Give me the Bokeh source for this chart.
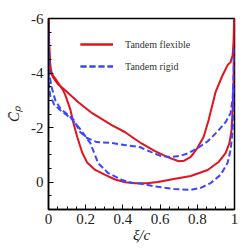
from bokeh.plotting import figure
from bokeh.models import Range1d, FixedTicker, Legend, LegendItem, CustomJSTickFormatter
from bokeh.embed import file_html
from bokeh.resources import INLINE

# Tandem flexible: suction (upper) and pressure (lower) branches
flex_suction_x = [0.0, 0.003, 0.008, 0.013, 0.024, 0.05, 0.09, 0.16, 0.235, 0.34, 0.41,
                  0.5, 0.57, 0.64, 0.7, 0.73, 0.765, 0.8, 0.834, 0.861, 0.898, 0.936,
                  0.963, 0.979, 0.99, 0.995, 0.998]
flex_suction_cp = [-6.0, -5.0, -4.4, -4.03, -3.85, -3.6, -3.37, -2.93, -2.53, -2.09, -1.84,
                   -1.42, -1.15, -0.92, -0.77, -0.79, -0.93, -1.25, -1.66, -2.28, -3.3, -3.92,
                   -4.29, -4.4, -4.65, -5.13, -6.0]
flex_pressure_x = [0.0, 0.005, 0.01, 0.02, 0.053, 0.08, 0.09, 0.118, 0.134, 0.155, 0.182,
                   0.209, 0.251, 0.305, 0.358, 0.412, 0.47, 0.53, 0.588, 0.674, 0.765,
                   0.856, 0.914, 0.952, 0.973, 0.984, 0.99, 0.995, 0.997, 0.998]
flex_pressure_cp = [-6.0, -4.8, -4.2, -3.95, -3.63, -3.35, -3.2, -2.65, -2.17, -1.65, -1.07,
                    -0.71, -0.45, -0.27, -0.1, 0.0, 0.04, 0.04, -0.01, -0.12, -0.23,
                    -0.45, -0.74, -1.07, -1.44, -1.91, -2.64, -3.74, -5.2, -6.0]

# Tandem rigid: suction (upper) and pressure (lower) branches
rigid_suction_x = [0.0, 0.003, 0.006, 0.016, 0.037, 0.064, 0.107, 0.134, 0.17, 0.207, 0.26,
                   0.34, 0.41, 0.49, 0.55, 0.604, 0.658, 0.711, 0.754, 0.802, 0.856, 0.909,
                   0.952, 0.979, 0.99, 0.995, 0.998]
rigid_suction_cp = [-5.8, -4.8, -3.9, -3.5, -3.0, -2.7, -2.45, -2.3, -1.84, -1.62, -1.47,
                    -1.44, -1.36, -1.29, -1.11, -0.96, -0.92, -0.97, -1.07, -1.25, -1.5, -1.86,
                    -2.2, -2.53, -3.08, -3.9, -4.9]
rigid_pressure_x = [0.0, 0.004, 0.01, 0.03, 0.07, 0.12, 0.17, 0.225, 0.267, 0.32, 0.396,
                    0.45, 0.49, 0.588, 0.674, 0.765, 0.818, 0.872, 0.925, 0.963, 0.979,
                    0.99, 0.995, 0.997]
rigid_pressure_cp = [-4.0, -3.4, -3.15, -2.85, -2.6, -2.35, -1.95, -1.43, -0.7, -0.34, -0.08,
                     0.03, 0.05, 0.17, 0.245, 0.28, 0.21, 0.03, -0.27, -0.71, -1.18,
                     -1.91, -2.64, -3.6]

xticks = [0.0, 0.2, 0.4, 0.6, 0.8, 1.0]
xtick_labels = ["0", "0.2", "0.4", "0.6", "0.8", "1"]
x_minor = [0.05, 0.1, 0.15, 0.25, 0.3, 0.35, 0.45, 0.5, 0.55, 0.65, 0.7, 0.75, 0.85, 0.9, 0.95]
yticks = [-6, -4, -2, 0]
ytick_labels = ["-6", "-4", "-2", "0"]
y_minor = [-5.5, -5, -4.5, -3.5, -3, -2.5, -1.5, -1, -0.5, 0.5]

RED = "#e0141e"
BLUE = "#3a46ff"
SERIF = "'Liberation Serif', serif"

p = figure(width=250, height=250, x_range=Range1d(0, 1), y_range=Range1d(1, -6),
           output_backend="svg", toolbar_location=None,
           min_border_left=48, min_border_right=16, min_border_top=18, min_border_bottom=41)

r1 = p.line(flex_suction_x, flex_suction_cp, line_color=RED, line_width=2)
r2 = p.line(flex_pressure_x, flex_pressure_cp, line_color=RED, line_width=2)
b1 = p.line(rigid_suction_x, rigid_suction_cp, line_color=BLUE, line_width=2, line_dash="6 3")
b2 = p.line(rigid_pressure_x, rigid_pressure_cp, line_color=BLUE, line_width=2, line_dash="6 3")

fmt_code = """
const i = tvals.findIndex(t => Math.abs(t - tick) < 1e-9);
return i >= 0 ? tlabels[i] : '';
"""
p.xaxis.ticker = FixedTicker(ticks=xticks, minor_ticks=x_minor)
p.xaxis.formatter = CustomJSTickFormatter(args=dict(tvals=xticks, tlabels=xtick_labels), code=fmt_code)
p.yaxis.ticker = FixedTicker(ticks=yticks, minor_ticks=y_minor)
p.yaxis.formatter = CustomJSTickFormatter(args=dict(tvals=yticks, tlabels=ytick_labels), code=fmt_code)

p.grid.visible = False
for ax in (p.xaxis[0], p.yaxis[0]):
    ax.major_tick_in = 5
    ax.major_tick_out = 0
    ax.minor_tick_in = 3
    ax.minor_tick_out = 0
    ax.axis_line_width = 1.5
    ax.axis_line_color = "black"
    ax.major_tick_line_color = "black"
    ax.minor_tick_line_color = "black"
    ax.major_label_text_font = SERIF
    ax.major_label_text_font_size = "15px"
    ax.major_label_text_color = "#222222"
    ax.axis_label_text_font = SERIF
    ax.axis_label_text_font_style = "italic"
    ax.axis_label_text_font_size = "15px"
    ax.axis_label_text_color = "#222222"

p.xaxis.major_label_standoff = 4
p.xaxis.axis_label = "ξ/c"
p.xaxis.axis_label_standoff = 0
p.yaxis.major_label_standoff = 5
p.yaxis.axis_label = "C\u0304\u209a"
p.yaxis.axis_label_standoff = 6

p.outline_line_color = "black"
p.outline_line_width = 1.5
p.outline_line_alpha = 1.0

legend = Legend(items=[LegendItem(label="Tandem flexible", renderers=[r1, r2]),
                       LegendItem(label="Tandem rigid", renderers=[b1, b2])],
                location=(32, 136), border_line_color=None, background_fill_alpha=0,
                glyph_width=33, glyph_height=14, label_height=14, spacing=8,
                padding=0, margin=0, label_standoff=12,
                label_text_font=SERIF, label_text_font_size="10px",
                label_text_color="#333333")
p.add_layout(legend)

open("out.html", "w").write(file_html(p, INLINE))
